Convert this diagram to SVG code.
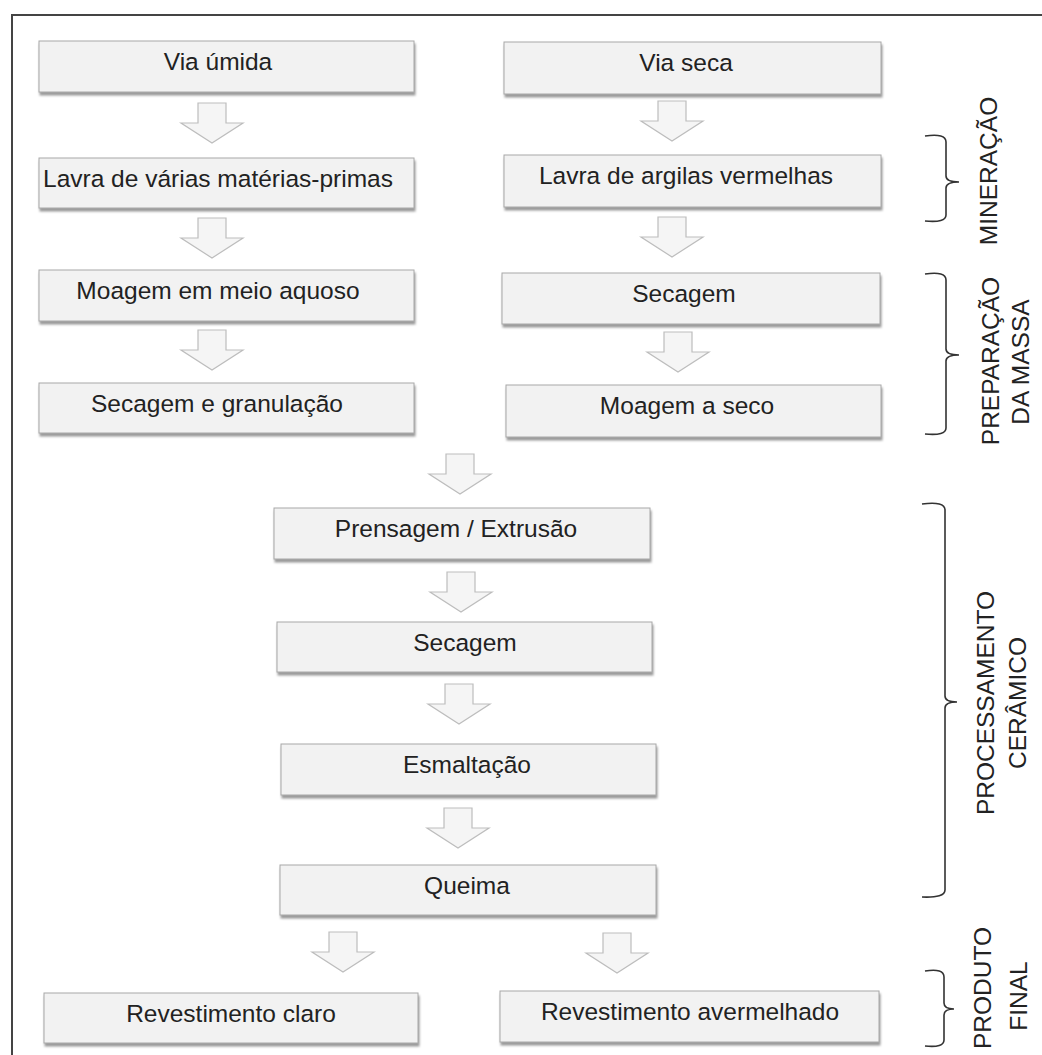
<svg xmlns="http://www.w3.org/2000/svg" width="1042" height="1055" viewBox="0 0 1042 1055">
<defs>
<filter id="sh" x="-5%" y="-20%" width="110%" height="150%">
<feDropShadow dx="1" dy="3" stdDeviation="1.3" flood-color="#6e6e6e" flood-opacity="0.7"/>
</filter>
<style>
.box rect{fill:#f2f2f2;stroke:#a8a8a8;stroke-width:1;filter:url(#sh)}
.box text{font-family:"Liberation Sans",Arial,sans-serif;font-size:24.5px;fill:#222;text-anchor:middle}
.arr path{fill:#f5f5f5;stroke:#bdbdbd;stroke-width:1.2}
.br path{fill:none;stroke:#333;stroke-width:1.6}
.lbl text{font-family:"Liberation Sans",Arial,sans-serif;font-size:24.5px;fill:#222;text-anchor:middle}
</style>
</defs>
<rect width="1042" height="1055" fill="#fff"/>
<path d="M12,1055 V15 H1042" fill="none" stroke="#444" stroke-width="2"/>

<g id="connectors" class="arr">
<path d="M198,103 H226 V123 H243 L212,143 L181,123 H198 Z"/>
<path d="M198,218 H226 V238 H243 L212,258 L181,238 H198 Z"/>
<path d="M198,330 H226 V350 H243 L212,370 L181,350 H198 Z"/>
<path d="M658,101 H686 V121 H703 L672,141 L641,121 H658 Z"/>
<path d="M658,217 H686 V237 H703 L672,257 L641,237 H658 Z"/>
<path d="M664,332 H692 V352 H709 L678,372 L647,352 H664 Z"/>
<path d="M446,454 H474 V474 H491 L460,494 L429,474 H446 Z"/>
<path d="M447,572 H475 V592 H492 L461,612 L430,592 H447 Z"/>
<path d="M445,684 H473 V704 H490 L459,724 L428,704 H445 Z"/>
<path d="M444,808 H472 V828 H489 L458,848 L427,828 H444 Z"/>
<path d="M329,932 H357 V952 H374 L343,972 L312,952 H329 Z"/>
<path d="M603,933 H631 V953 H648 L617,973 L586,953 H603 Z"/>
</g>

<g id="via-umida" class="box"><rect x="39" y="41" width="375" height="51"/><text x="218" y="70">Via úmida</text></g>
<g id="via-seca" class="box"><rect x="504" y="42" width="377" height="52"/><text x="686" y="71">Via seca</text></g>
<g id="lavra-varias" class="box"><rect x="39" y="158" width="375" height="50"/><text x="218" y="187">Lavra de várias matérias-primas</text></g>
<g id="lavra-argilas" class="box"><rect x="504" y="155" width="377" height="52"/><text x="686" y="184">Lavra de argilas vermelhas</text></g>
<g id="moagem-aquoso" class="box"><rect x="39" y="270" width="375" height="51"/><text x="218" y="299">Moagem em meio aquoso</text></g>
<g id="secagem-seca" class="box"><rect x="502" y="273" width="378" height="51"/><text x="684" y="302">Secagem</text></g>
<g id="secagem-granulacao" class="box"><rect x="39" y="383" width="375" height="50"/><text x="217" y="412">Secagem e granulação</text></g>
<g id="moagem-seco" class="box"><rect x="506" y="385" width="375" height="52"/><text x="687" y="414">Moagem a seco</text></g>
<g id="prensagem" class="box"><rect x="274" y="508" width="376" height="51"/><text x="456" y="537">Prensagem / Extrusão</text></g>
<g id="secagem" class="box"><rect x="277" y="622" width="375" height="50"/><text x="465" y="651">Secagem</text></g>
<g id="esmaltacao" class="box"><rect x="281" y="744" width="375" height="51"/><text x="467" y="773">Esmaltação</text></g>
<g id="queima" class="box"><rect x="280" y="865" width="376" height="50"/><text x="467" y="894">Queima</text></g>
<g id="rev-claro" class="box"><rect x="44" y="993" width="374" height="50"/><text x="231" y="1022">Revestimento claro</text></g>
<g id="rev-avermelhado" class="box"><rect x="500" y="991" width="379" height="51"/><text x="690" y="1020">Revestimento avermelhado</text></g>

<g id="mineracao" class="br lbl">
<path d="M925,136 Q946,133 946,142 V176 Q946,182 959,182 Q946,182 946,188 V215 Q946,223 925,221"/>
<text transform="translate(997,171) rotate(-90)">MINERAÇÃO</text>
</g>
<g id="preparacao" class="br lbl">
<path d="M925,274 Q946,271 946,280 V349 Q946,355 959,355 Q946,355 946,361 V428 Q946,436 925,434"/>
<text transform="translate(999,361) rotate(-90)">PREPARAÇÃO</text>
<text transform="translate(1029,362) rotate(-90)">DA MASSA</text>
</g>
<g id="processamento" class="br lbl">
<path d="M922,504 Q945,501 945,510 V696 Q945,702 957,702 Q945,702 945,708 V890 Q945,898 922,897"/>
<text transform="translate(994,703) rotate(-90)">PROCESSAMENTO</text>
<text transform="translate(1026,703) rotate(-90)">CERÂMICO</text>
</g>
<g id="produto-final" class="br lbl">
<path d="M925,971 Q944,968 944,977 V1003 Q944,1009 954,1009 Q944,1009 944,1015 V1040 Q944,1048 925,1046"/>
<text transform="translate(991,988) rotate(-90)">PRODUTO</text>
<text transform="translate(1027,996) rotate(-90)">FINAL</text>
</g>
</svg>
